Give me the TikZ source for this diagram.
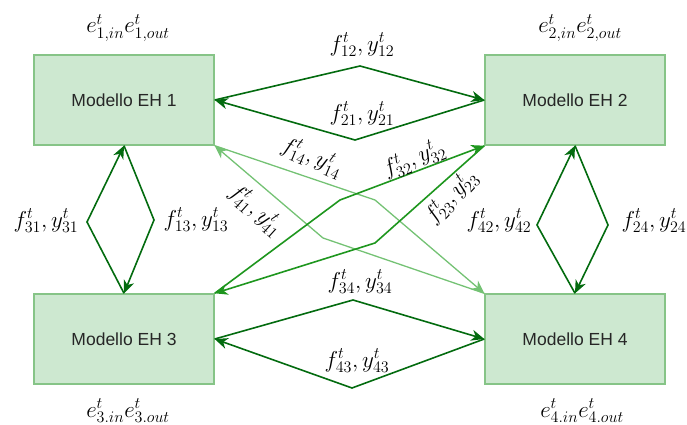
\RequirePackage{fix-cm}
\documentclass[tikz,border=0pt]{standalone}
\usepackage{fontspec}
\setsansfont{Liberation Sans}
\usetikzlibrary{arrows.meta}
\definecolor{boxfill}{HTML}{CDE8D0}
\definecolor{boxline}{HTML}{86C487}
\definecolor{darkflow}{HTML}{036B0F}
\definecolor{midflow}{HTML}{1E961E}
\definecolor{lightflow}{HTML}{74C274}
\tikzset{
  ehbox/.style={draw=boxline, line width=1.4pt, fill=boxfill,
    minimum width=180pt, minimum height=90pt, inner sep=0pt,
    font=\sffamily\fontsize{17.5}{20}\selectfont, text=black!85}
}
\tikzset{
  flow/.style={darkflow, line width=1.6pt, line join=miter,
    -{Stealth[length=13pt,width=11pt,inset=4pt]}},
  midfl/.style={flow, midflow},
  lightfl/.style={flow, lightflow, line width=1.3pt}
}
\tikzset{
  flowlabel/.style={inner sep=1pt, font=\fontsize{23}{26}\selectfont}
}

\begin{document}
\begin{tikzpicture}[x=1pt, y=-1pt]
  \useasboundingbox (0,0) rectangle (687,425);

  % the four hub models
  \node[ehbox] (m1) at (124,100) {Modello EH 1};
  \node[ehbox] (m2) at (575,100) {Modello EH 2};
  \node[ehbox] (m3) at (124,339) {Modello EH 3};
  \node[ehbox] (m4) at (575,339) {Modello EH 4};

  % energy in/out of each hub
  \node[flowlabel] (e1) at (128,28) {$e^t_{1,in}e^t_{1,out}$};
  \node[flowlabel] (e2) at (580,28) {$e^t_{2,in}e^t_{2,out}$};
  \node[flowlabel] (e3) at (128,411) {$e^t_{3.in}e^t_{3.out}$};
  \node[flowlabel] (e4) at (582,411) {$e^t_{4.in}e^t_{4.out}$};

  % bend points of the connectors
  \coordinate (b12) at (360,66);
  \coordinate (b21) at (355,140);
  \coordinate (b34) at (353,300);
  \coordinate (b43) at (352,388);
  \coordinate (b31) at (87,222);
  \coordinate (b13) at (154,220);
  \coordinate (b42) at (537,225);
  \coordinate (b24) at (608,225);
  \coordinate (b14) at (375,200);
  \coordinate (b41) at (323,238);
  \coordinate (b32) at (340,200);
  \coordinate (b23) at (375,243);

  % exchanges between neighbouring hubs
  \draw[flow] (m1.east) -- (b12) -- (m2.west);
  \draw[flow] (m2.west) -- (b21) -- (m1.east);
  \draw[flow] (m3.east) -- (b34) -- (m4.west);
  \draw[flow] (m4.west) -- (b43) -- (m3.east);
  \draw[flow] (m3.north) -- (b31) -- (m1.south);
  \draw[flow] (m1.south) -- (b13) -- (m3.north);
  \draw[flow] (m4.north) -- (b42) -- (m2.south);
  \draw[flow] (m2.south) -- (b24) -- (m4.north);

  % crossing exchanges
  \draw[lightfl] (m1.south east) -- (b14) -- (m4.north west);
  \draw[lightfl] (m4.north west) -- (b41) -- (m1.south east);
  \draw[midfl] (m3.north east) -- (b32) -- (m2.south west);
  \draw[midfl] (m2.south west) -- (b23) -- (m3.north east);

  % flow labels
  \node[flowlabel] (l12) at (362,45) {$f^t_{12},y^t_{12}$};
  \node[flowlabel] (l21) at (362,114) {$f^t_{21},y^t_{21}$};
  \node[flowlabel] (l34) at (360,282) {$f^t_{34},y^t_{34}$};
  \node[flowlabel] (l43) at (357,361) {$f^t_{43},y^t_{43}$};
  \node[flowlabel] (l31) at (46,221) {$f^t_{31},y^t_{31}$};
  \node[flowlabel] (l13) at (196,220) {$f^t_{13},y^t_{13}$};
  \node[flowlabel] (l42) at (499,221) {$f^t_{42},y^t_{42}$};
  \node[flowlabel] (l24) at (654,221) {$f^t_{24},y^t_{24}$};
  \node[flowlabel, rotate=-23] (l14) at (312,157) {$f^t_{14},y^t_{14}$};
  \node[flowlabel, rotate=-42] (l41) at (256,210) {$f^t_{41},y^t_{41}$};
  \node[flowlabel, rotate=22] (l32) at (414,159) {$f^t_{32},y^t_{32}$};
  \node[flowlabel, rotate=47] (l23) at (451,197) {$f^t_{23},y^t_{23}$};
\end{tikzpicture}
\end{document}
